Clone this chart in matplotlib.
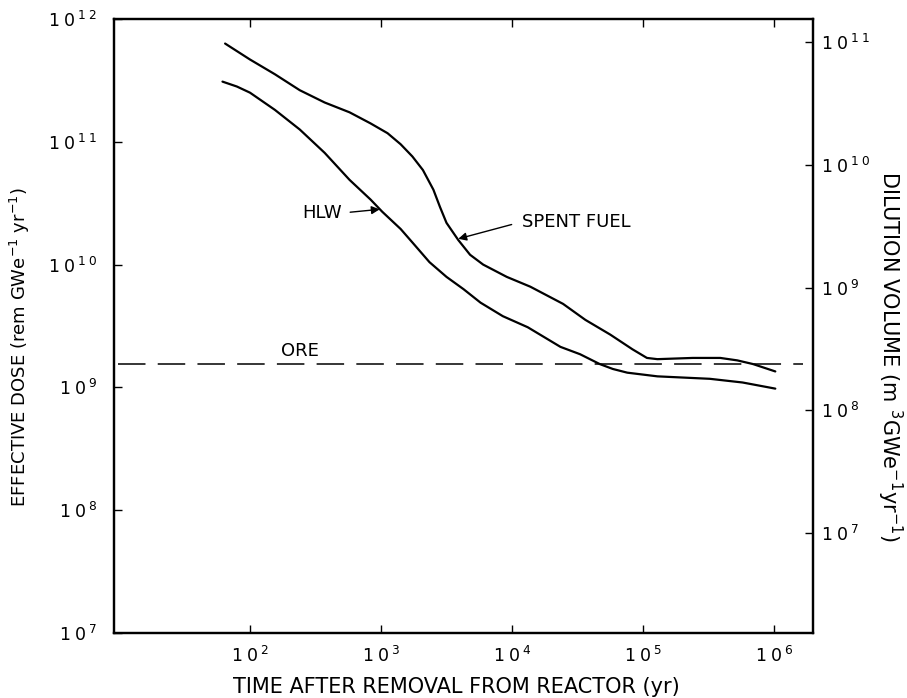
import numpy as np
import matplotlib
matplotlib.use("Agg")
import matplotlib.pyplot as plt
from matplotlib.ticker import FixedLocator, FuncFormatter, NullLocator

plt.rcParams['font.family'] = ['DejaVu Sans']
plt.rcParams['mathtext.fontset'] = 'dejavusans'

# values, given as log10 exponents
spent_t = 10 ** np.array([1.81, 2.00, 2.19, 2.38, 2.57, 2.76, 2.92, 3.05, 3.15, 3.24,
                          3.32, 3.40, 3.45, 3.50, 3.59, 3.68, 3.78, 3.96, 4.14, 4.39,
                          4.56, 4.75, 4.92, 5.03, 5.11, 5.38, 5.59, 5.72, 5.84, 6.01])
spent_dose = 10 ** np.array([11.80, 11.67, 11.55, 11.42, 11.32, 11.24, 11.15, 11.07, 10.98, 10.88,
                             10.77, 10.61, 10.47, 10.34, 10.20, 10.08, 10.00, 9.90, 9.82, 9.68,
                             9.55, 9.43, 9.31, 9.24, 9.23, 9.24, 9.24, 9.22, 9.19, 9.13])

hlw_t = 10 ** np.array([1.79, 1.90, 2.00, 2.19, 2.38, 2.57, 2.76, 2.92, 3.01, 3.15, 3.24,
                        3.37, 3.50, 3.63, 3.76, 3.93, 4.12, 4.37, 4.52, 4.67, 4.77,
                        4.88, 5.11, 5.51, 5.76, 6.01])
hlw_dose = 10 ** np.array([11.49, 11.45, 11.40, 11.26, 11.10, 10.91, 10.69, 10.53, 10.43, 10.29, 10.18,
                           10.02, 9.90, 9.80, 9.69, 9.58, 9.49, 9.33, 9.27, 9.19, 9.15,
                           9.12, 9.09, 9.07, 9.04, 8.99])

ore_dose = 1.54e9
dose_to_volume = 10 ** 0.813   # left axis value / right axis value

x_ticks = [1e2, 1e3, 1e4, 1e5, 1e6]
left_ticks = [1e7, 1e8, 1e9, 1e10, 1e11, 1e12]
right_ticks = [1e7, 1e8, 1e9, 1e10, 1e11]


def pow_label(v, pos):
    e = str(round(np.log10(v)))
    return r"$\mathregular{1\;0\,^{%s}}$" % r"\;".join(e)


fig = plt.figure(figsize=(9.07, 6.98), dpi=100)
ax = fig.add_axes([0.1257, 0.0931, 0.7707, 0.8797])

ax.plot(spent_t, spent_dose, color='black', linewidth=1.6, solid_capstyle='round',
        solid_joinstyle='round')
ax.plot(hlw_t, hlw_dose, color='black', linewidth=1.6, solid_capstyle='round',
        solid_joinstyle='round')
ax.axhline(ore_dose, xmin=0.005, xmax=0.985, color='black', linewidth=1.1, dashes=(18, 8))

ax.set_xscale('log')
ax.set_yscale('log')
ax.set_xlim(10 ** 0.962, 10 ** 6.298)
ax.set_ylim(1e7, 1e12)

ax.xaxis.set_major_locator(FixedLocator(x_ticks))
ax.xaxis.set_minor_locator(NullLocator())
ax.xaxis.set_major_formatter(FuncFormatter(pow_label))
ax.yaxis.set_major_locator(FixedLocator(left_ticks))
ax.yaxis.set_minor_locator(NullLocator())
ax.yaxis.set_major_formatter(FuncFormatter(pow_label))
ax.tick_params(axis='x', direction='in', length=6, width=1, labelsize=12.5, pad=9,
               top=True)
ax.tick_params(axis='y', direction='in', length=6, width=1, labelsize=12.5, pad=12)

ax2 = ax.twinx()
ax2.set_yscale('log')
ax2.set_ylim(1e7 / dose_to_volume, 1e12 / dose_to_volume)
ax2.yaxis.set_major_locator(FixedLocator(right_ticks))
ax2.yaxis.set_minor_locator(NullLocator())
ax2.yaxis.set_major_formatter(FuncFormatter(pow_label))
ax2.tick_params(axis='y', direction='in', length=6, width=1, labelsize=12.5, pad=6)

for a in (ax, ax2):
    for s in a.spines.values():
        s.set_linewidth(1.6)

ax.set_xlabel('TIME AFTER REMOVAL FROM REACTOR (yr)', fontsize=15)
ax.xaxis.set_label_coords(0.49, -0.072)
ax.set_ylabel(r'EFFECTIVE DOSE (rem GWe$^{\mathregular{-1}}$ yr$^{\mathregular{-1}}$)', fontsize=13)
ax.yaxis.set_label_coords(-0.118, 0.466)
ax2.set_ylabel(r'DILUTION VOLUME (m $^{\mathregular{3}}$GWe$^{\mathregular{-1}}$yr$^{\mathregular{-1}}$)',
               fontsize=15, rotation=-90, va='center')
ax2.yaxis.set_label_coords(1.11, 0.45)

ax.text(10 ** 2.38, 10 ** 9.30, 'ORE', fontsize=13, ha='center', va='center')
ax.annotate('HLW', xy=(10 ** 2.99, 10 ** 10.45), xytext=(10 ** 2.55, 10 ** 10.42),
            fontsize=13, ha='center', va='center',
            arrowprops=dict(arrowstyle='-|>', color='black', lw=1.0,
                            shrinkA=4, shrinkB=0, mutation_scale=12,
                            relpos=(1, 0.5)))
ax.annotate('SPENT FUEL', xy=(10 ** 3.59, 10 ** 10.21), xytext=(10 ** 4.08, 10 ** 10.35),
            fontsize=13, ha='left', va='center',
            arrowprops=dict(arrowstyle='-|>', color='black', lw=1.0,
                            shrinkA=6, shrinkB=0, mutation_scale=12,
                            relpos=(0, 0.5)))

fig.savefig('out.png', dpi=100)
